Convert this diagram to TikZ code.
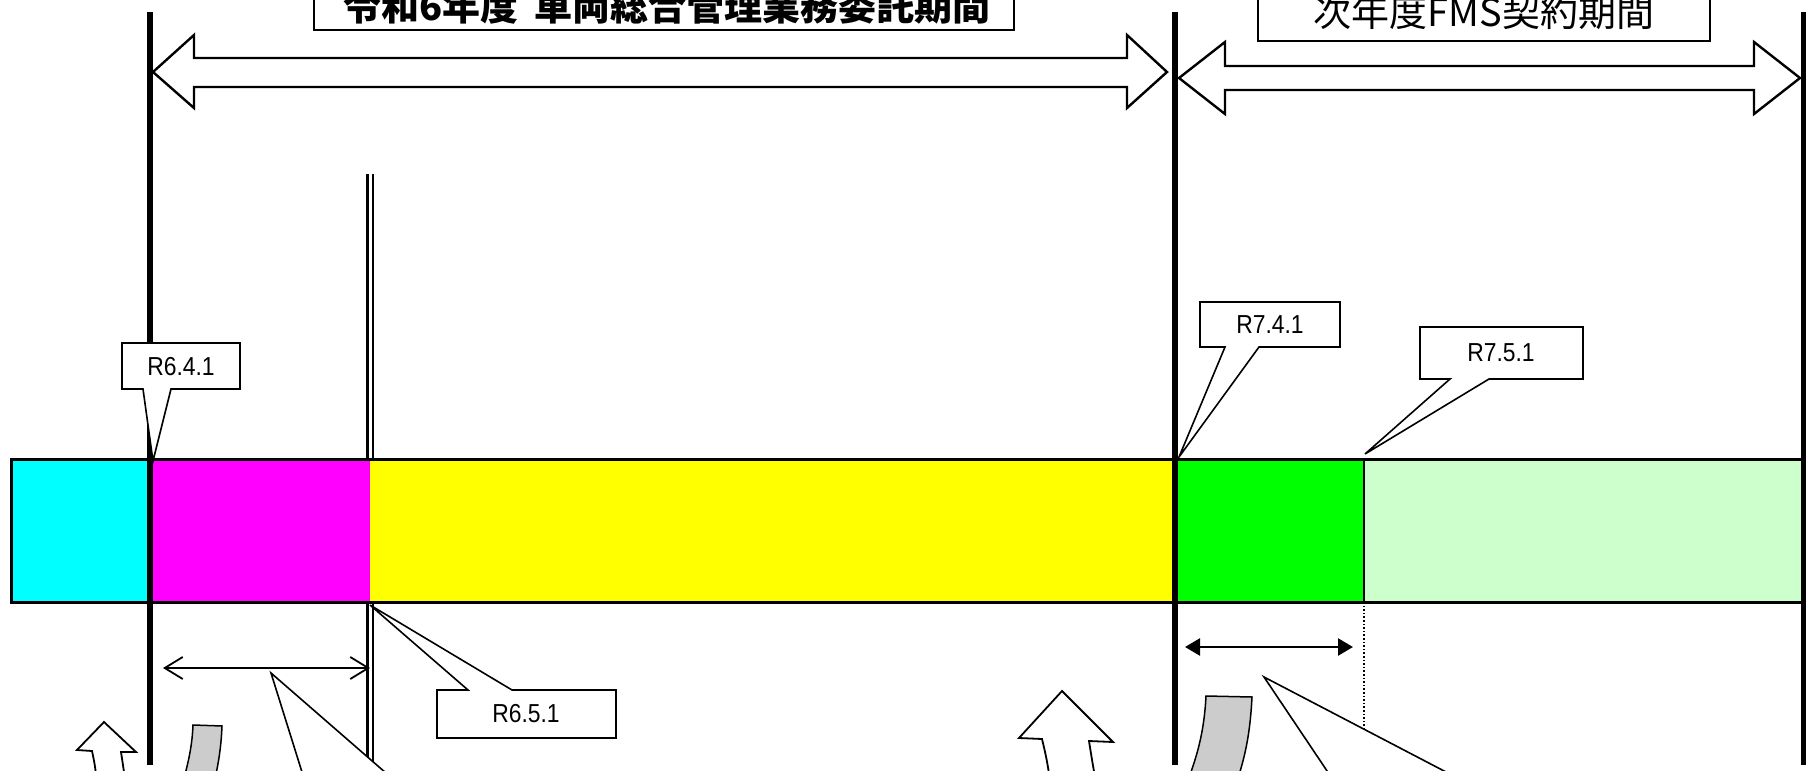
\documentclass[tikz,border=0pt]{standalone}
\usepackage{fontspec}
\setmainfont{Liberation Sans}
\newfontfamily\cjk{Noto Sans CJK JP}
\usetikzlibrary{arrows.meta}
\definecolor{cyanc}{HTML}{00FFFF}
\definecolor{magc}{HTML}{FF00FF}
\definecolor{yelc}{HTML}{FFFF00}
\definecolor{grnc}{HTML}{00FF00}
\definecolor{lgrnc}{HTML}{CCFFCC}
\definecolor{bandc}{HTML}{CCCCCC}
\tikzset{
  thickline/.style={line width=6pt},
  hollow/.style={draw, line width=2.4pt, fill=white, line join=miter},
  callout/.style={draw, line width=1.6pt, fill=white, line join=miter},
  band/.style={draw, line width=1.5pt, fill=bandc},
  lab/.style={font=\fontsize{26}{26}\selectfont, inner sep=0pt},
  titlebox/.style={draw, line width=1.6pt, fill=white},
}
\begin{document}
\begin{tikzpicture}[x=1pt,y=-1pt]
\useasboundingbox (0,0) rectangle (1808,771);
\clip (0,0) rectangle (1808,771);
\fill[white] (0,0) rectangle (1808,771);

% double line behind the bar
\draw[double, double distance=3pt, line width=2.4pt] (370,174) -- (370,770);

% bar
\fill[cyanc] (11,459) rectangle (150,602);
\fill[magc] (150,459) rectangle (370,602);
\fill[yelc] (370,459) rectangle (1175,602);
\fill[grnc] (1175,459) rectangle (1364,602);
\fill[lgrnc] (1364,459) rectangle (1802,602);
\draw[line width=3pt] (11,459) rectangle (1802,602);
\draw[line width=2.5pt] (1364,459) -- (1364,602);
\draw[line width=1.6pt, dotted] (1364,602) -- (1364,745);

% thick vertical lines
\draw[thickline] (150,12) -- (150,765);
\draw[thickline] (1175,12) -- (1175,765);
\draw[line width=5pt] (1803,12) -- (1803,765);

% title boxes
\draw[titlebox] (314,-40) rectangle (1014,30);
\node[anchor=base, inner sep=0pt, font=\fontsize{38}{38}\selectfont\cjk\bfseries] (t1) at (667,20) {令和6年度\hspace{0.4em}車両総合管理業務委託期間};
\draw[titlebox] (1258,-40) rectangle (1710,41);
\node[anchor=base, inner sep=0pt, font=\fontsize{38}{38}\selectfont\cjk] (t2) at (1484,27) {次年度FMS契約期間};

% hollow double arrows
\path[hollow] (153,72) -- (194,35) -- (194,58) -- (1127,58) -- (1127,35) -- (1167,72) -- (1127,108) -- (1127,87) -- (194,87) -- (194,108) -- cycle;
\path[hollow] (1179,78) -- (1225,42) -- (1225,66) -- (1754,66) -- (1754,42) -- (1800,78) -- (1754,114) -- (1754,90) -- (1225,90) -- (1225,114) -- cycle;

% callouts with labels
\path[callout] (122,343) -- (240,343) -- (240,389) -- (171,389) -- (153,461) -- (143,389) -- (122,389) -- cycle;
\node[lab] (r641) at (181,367) {\scalebox{0.88}[1]{R6.4.1}};
\path[callout] (1200,302) -- (1340,302) -- (1340,347) -- (1259,347) -- (1179,457) -- (1225,347) -- (1200,347) -- cycle;
\node[lab] (r741) at (1270,325) {\scalebox{0.88}[1]{R7.4.1}};
\path[callout] (1420,327) -- (1583,327) -- (1583,379) -- (1489,379) -- (1365,454) -- (1450,379) -- (1420,379) -- cycle;
\node[lab] (r751) at (1501,353) {\scalebox{0.88}[1]{R7.5.1}};
\path[callout] (437,690) -- (468,690) -- (370,605) -- (512,690) -- (616,690) -- (616,738) -- (437,738) -- cycle;
\node[lab] (r651) at (526,714) {\scalebox{0.88}[1]{R6.5.1}};

% callouts from below (boxes off the picture)
\path[callout] (271,673) -- (317,820) -- (440,820) -- cycle;
\path[callout] (1264,677) -- (1360,820) -- (1538,820) -- cycle;

% span arrows
\draw[line width=1.8pt, {Straight Barb[length=18pt,width=22pt]}-{Straight Barb[length=18pt,width=22pt]}] (163,668) -- (370,668);
\draw[line width=2.5pt, {Triangle[length=15pt,width=17pt]}-{Triangle[length=15pt,width=17pt]}] (1185,647) -- (1353,647);

% gray curved bands
\path[band] (193,725) -- (222,726) .. controls (221,750) and (218,768) .. (210,800) -- (178,800) .. controls (187,768) and (192,750) .. (193,725) -- cycle;
\path[band] (1206,696) -- (1252,697) .. controls (1250,735) and (1245,762) .. (1230,800) -- (1180,800) .. controls (1196,762) and (1204,735) .. (1206,696) -- cycle;

% white up arrows
\path[hollow, line width=1.8pt] (104,722) -- (136,752) -- (121,752) .. controls (123,765) .. (128,800) -- (99,800) .. controls (95,765) .. (92,751) -- (77,750) -- cycle;
\path[hollow, line width=1.8pt] (1062,691) -- (1113,742) -- (1089,741) .. controls (1092,760) .. (1099,800) -- (1053,800) .. controls (1047,760) .. (1042,739) -- (1019,738) -- cycle;
\end{tikzpicture}
\end{document}
